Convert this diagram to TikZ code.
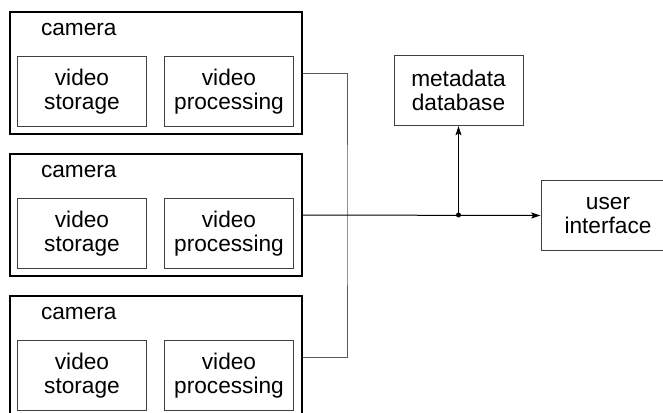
\documentclass[tikz,border=0pt]{standalone}
\usepackage{fontspec}
\setmainfont{Liberation Sans}
\usepackage{tikz}
\usetikzlibrary{positioning, arrows.meta}

\begin{document}
\begin{tikzpicture}[x=0.75pt, y=-0.75pt,
    every node/.style={font=\fontsize{17}{18.5}\selectfont, align=center},
    camframe/.style={draw, line width=1.5pt, minimum width=219pt, minimum height=91.5pt},
    partbox/.style={draw=black!75, line width=0.75pt, minimum width=96.75pt, minimum height=52.5pt, inner sep=0pt},
    camlabel/.style={inner sep=0pt, outer sep=0pt},
    bus/.style={draw=black!65, line width=0.75pt},
    feed/.style={draw, line width=0.75pt, -{Stealth[length=7pt, width=4.5pt, inset=1.5pt]}}]
    \clip[use as bounding box] (0,0) rectangle (663,412);

    % cameras
    \node[camframe] (cam1) at (156,73) {};
    \node[camlabel, below right=9pt and 24pt of cam1.north west] (lab1) {camera};
    \node[partbox, above right=6pt and 6pt of cam1.south west] (stor1) {video\\storage};
    \node[partbox, above left=6pt and 6.75pt of cam1.south east] (proc1) {video\\processing};

    \node[camframe] (cam2) at (156,215) {};
    \node[camlabel, below right=9pt and 24pt of cam2.north west] (lab2) {camera};
    \node[partbox, above right=6pt and 6pt of cam2.south west] (stor2) {video\\storage};
    \node[partbox, above left=6pt and 6.75pt of cam2.south east] (proc2) {video\\processing};

    \node[camframe] (cam3) at (156,357) {};
    \node[camlabel, below right=9pt and 24pt of cam3.north west] (lab3) {camera};
    \node[partbox, above right=6pt and 6pt of cam3.south west] (stor3) {video\\storage};
    \node[partbox, above left=6pt and 6.75pt of cam3.south east] (proc3) {video\\processing};

    % back end
    \node[partbox] (meta) at (458.5,90.5) {metadata\\database};
    \node[partbox, minimum width=100.5pt] (ui) at (608,215.5) {user\\interface};

    % connectors
    \coordinate (bus) at (347,215);
    \coordinate (jn) at (meta.south |- cam2.east);
    \draw[bus] (cam1.east) -| (bus) |- (cam3.east);
    \draw[feed] (cam2.east) -- (ui.west);
    \draw[feed] (jn) -- (meta.south);
    \fill (jn) circle (2.5);
\end{tikzpicture}
\end{document}
